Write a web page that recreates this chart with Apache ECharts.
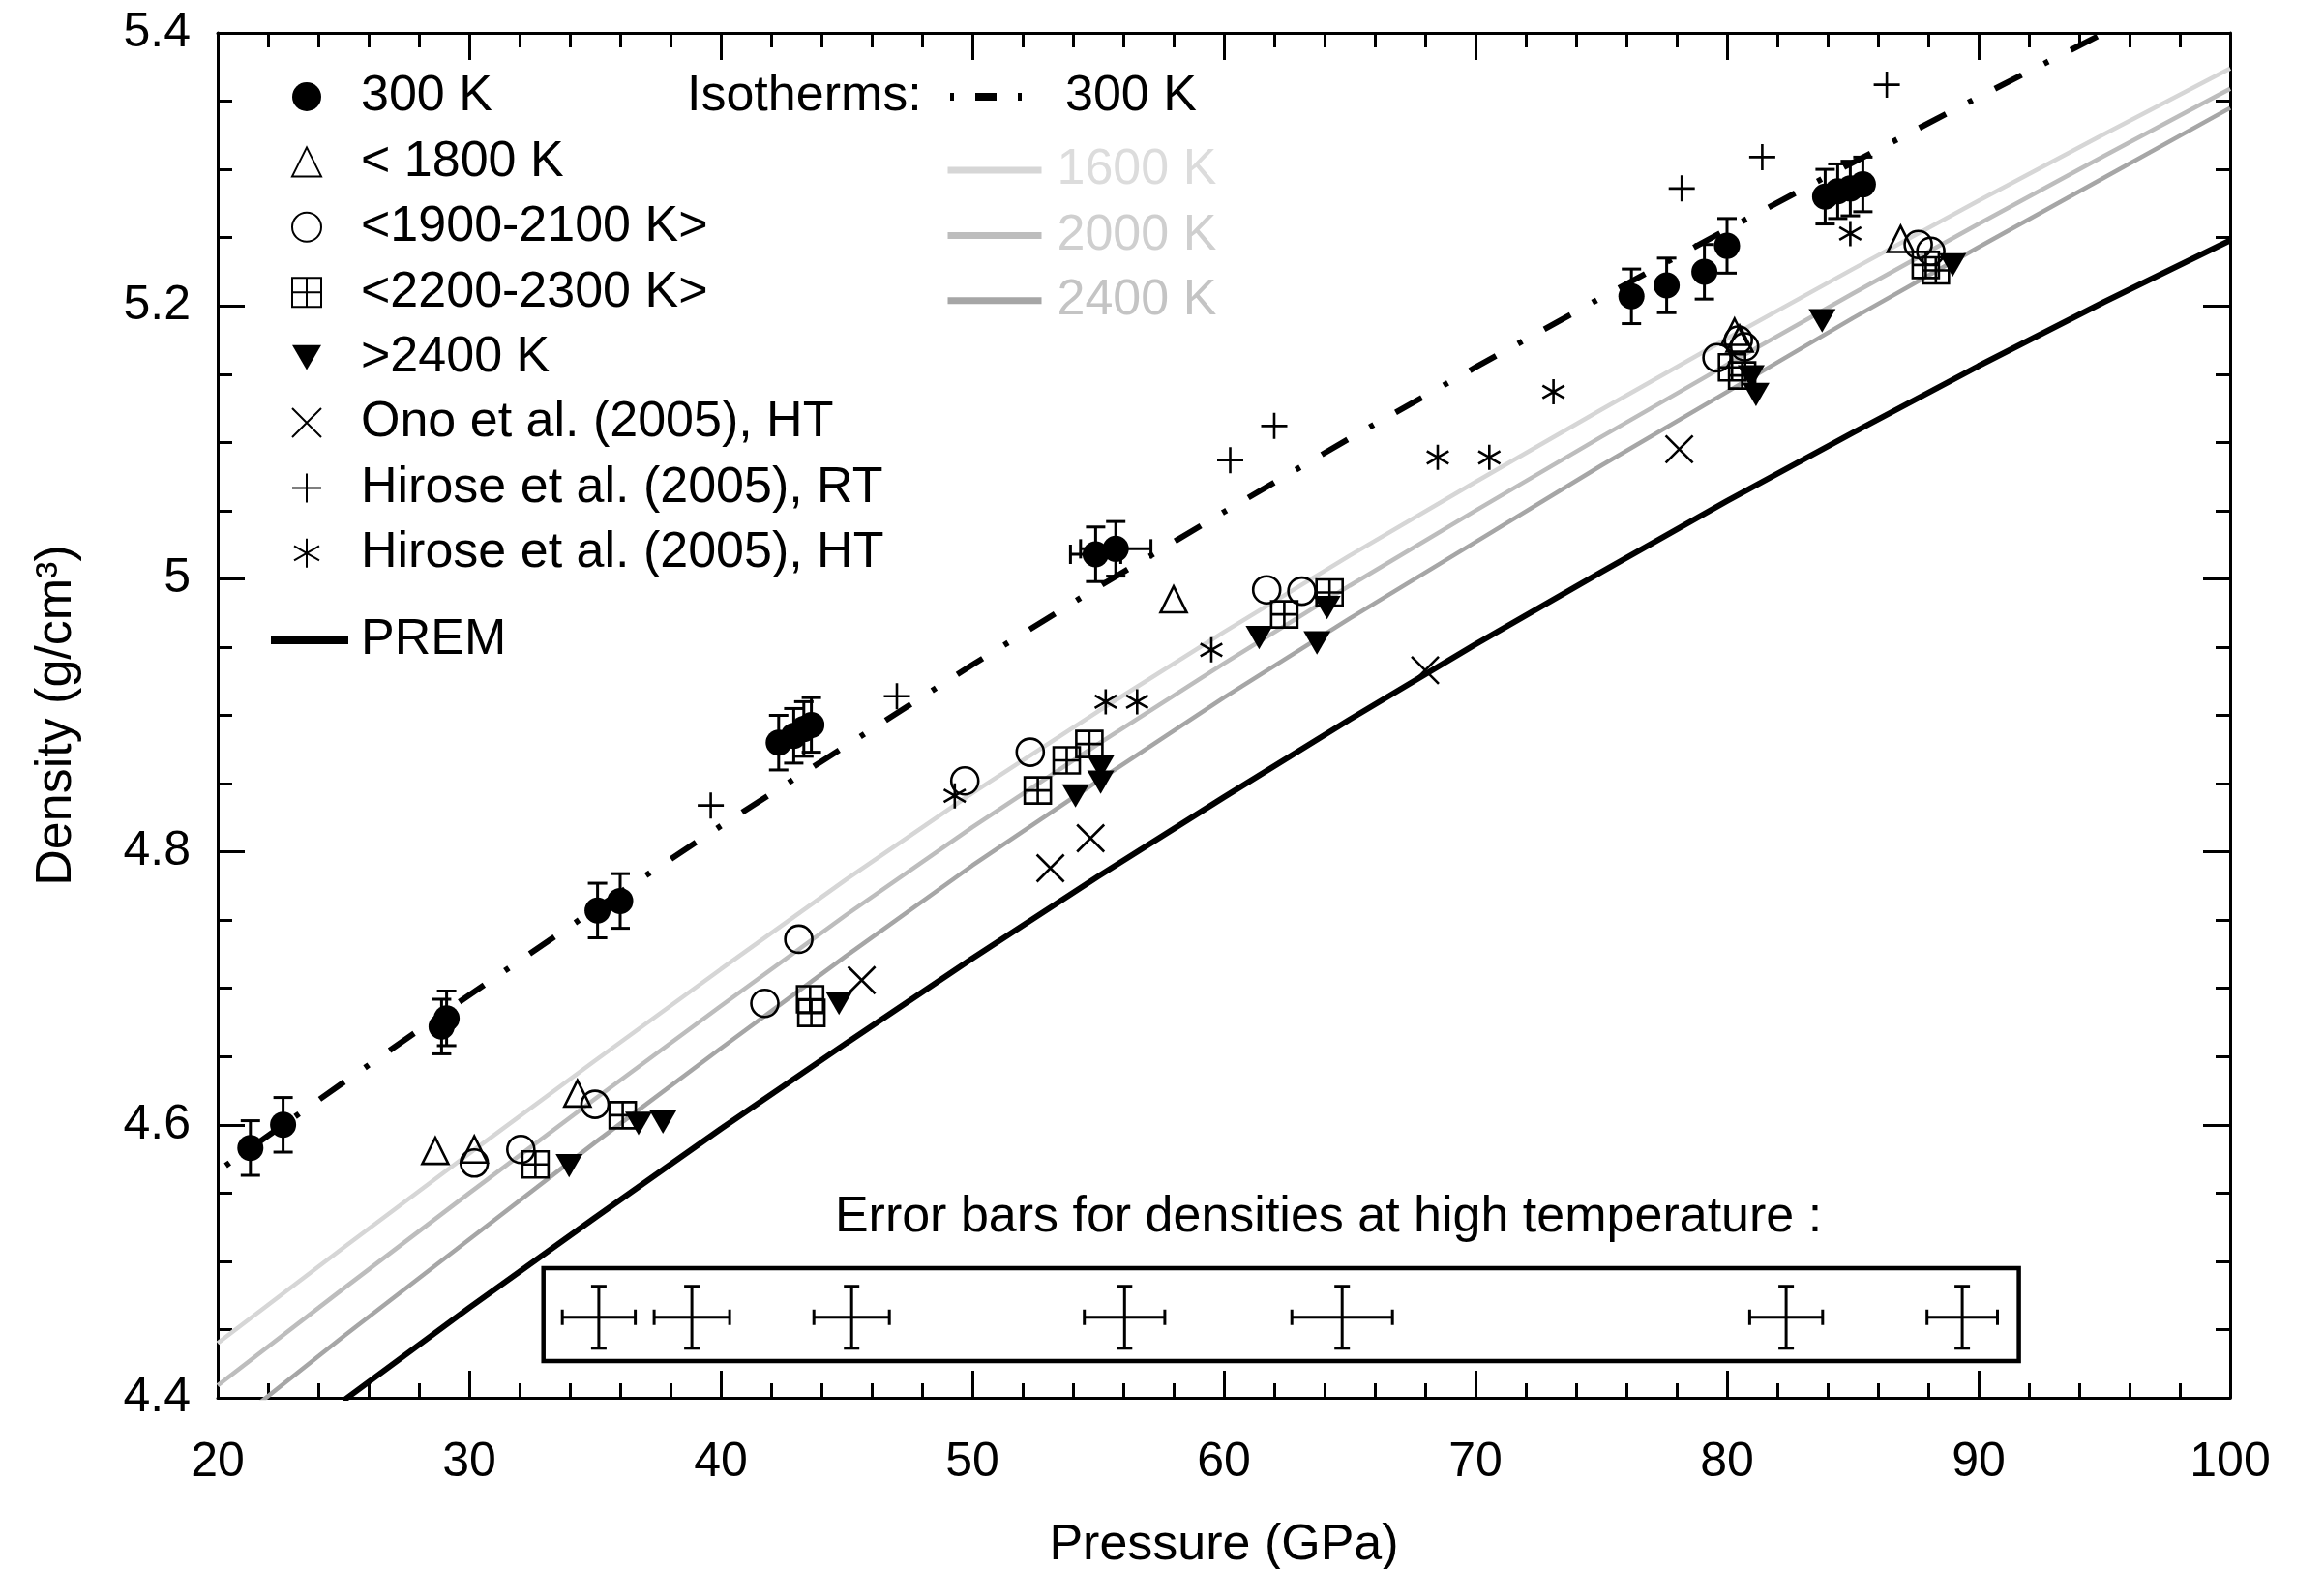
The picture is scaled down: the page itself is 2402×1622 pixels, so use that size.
<!DOCTYPE html>
<html>
<head>
<meta charset="utf-8">
<title>Density vs pressure</title>
<script src="https://cdn.jsdelivr.net/npm/echarts@6/dist/echarts.min.js"></script>
<style>
  html, body { margin: 0; padding: 0; background: #fff; }
  #chart { width: 2402px; height: 1622px; }
</style>
</head>
<body>
<div id="chart"></div>
<script>
// model curves, pressure in GPa, density in g/cm3
const curveP = [20, 25, 30, 35, 40, 45, 50, 55, 60, 65, 70, 75, 80, 85, 90, 95, 100];
const iso1600 = [4.440, 4.510, 4.579, 4.647, 4.714, 4.780, 4.843, 4.903, 4.961, 5.017, 5.071, 5.124, 5.176, 5.227, 5.277, 5.326, 5.374];
const iso2000 = [4.409, 4.480, 4.550, 4.619, 4.687, 4.754, 4.818, 4.879, 4.938, 4.995, 5.050, 5.104, 5.157, 5.209, 5.260, 5.310, 5.359];
const iso2400 = [4.372, 4.445, 4.516, 4.587, 4.656, 4.724, 4.790, 4.852, 4.913, 4.971, 5.027, 5.083, 5.137, 5.191, 5.243, 5.294, 5.345];
const iso300P = [20, 25, 30, 35, 40, 45, 50, 55, 60, 65, 70, 75, 80, 85, 90, 95];
const iso300 = [4.566, 4.631, 4.695, 4.758, 4.819, 4.878, 4.937, 4.994, 5.049, 5.103, 5.155, 5.206, 5.256, 5.305, 5.353, 5.400];
const premP = [25, 30, 35, 40, 45, 50, 55, 60, 65, 70, 75, 80, 85, 90, 95, 100];
const prem = [4.398, 4.466, 4.532, 4.597, 4.660, 4.722, 4.782, 4.840, 4.897, 4.952, 5.005, 5.057, 5.107, 5.156, 5.203, 5.248];

// measurements
const p300 = [21.3, 22.6, 28.9, 29.1, 35.1, 36.0, 42.3, 42.9, 43.3, 43.6, 54.9, 55.7, 76.2, 77.6, 79.1, 80.0, 83.9, 84.4, 84.9, 85.4];
const rho300 = [4.583, 4.600, 4.672, 4.678, 4.757, 4.764, 4.880, 4.885, 4.890, 4.893, 5.018, 5.022, 5.207, 5.215, 5.225, 5.244, 5.280, 5.284, 5.286, 5.289];
const errRho300 = [0.02, 0.02, 0.02, 0.02, 0.02, 0.02, 0.02, 0.02, 0.02, 0.02, 0.02, 0.02, 0.02, 0.02, 0.02, 0.02, 0.02, 0.02, 0.02, 0.02];
const errP300 = [0, 0, 0, 0, 0, 0, 0, 0, 0, 0, 1.0, 1.4, 0, 0, 0, 0, 0, 0, 0, 0];

const pT1800 = [28.65, 30.2, 34.3, 58.0, 80.3, 80.5, 86.9];
const rhoT1800 = [4.581, 4.582, 4.623, 4.985, 5.181, 5.176, 5.249];
const pT2000 = [30.2, 32.05, 35.0, 41.75, 43.1, 49.7, 52.3, 61.7, 63.1, 79.6, 80.45, 80.7, 87.6, 88.1];
const rhoT2000 = [4.572, 4.582, 4.615, 4.689, 4.736, 4.852, 4.873, 4.992, 4.991, 5.162, 5.175, 5.170, 5.245, 5.240];
const pT2250 = [32.63, 36.1, 43.55, 43.6, 52.6, 53.75, 54.65, 62.4, 64.2, 80.2, 80.6, 87.9, 88.3];
const rhoT2250 = [4.571, 4.607, 4.692, 4.682, 4.845, 4.867, 4.879, 4.974, 4.990, 5.155, 5.149, 5.230, 5.226];
const pT2400 = [33.97, 36.73, 37.7, 44.7, 54.1, 55.1, 55.1, 61.4, 63.7, 64.1, 80.96, 81.15, 83.78, 88.97];
const rhoT2400 = [4.570, 4.601, 4.602, 4.689, 4.841, 4.851, 4.862, 4.957, 4.953, 4.979, 5.148, 5.135, 5.189, 5.230];
const pOno = [45.6, 53.1, 54.7, 68.0, 78.1];
const rhoOno = [4.706, 4.788, 4.810, 4.933, 5.095];
const pHiroseRT = [39.6, 47.0, 60.25, 62.0, 78.2, 81.4, 86.35];
const rhoHiroseRT = [4.834, 4.914, 5.087, 5.112, 5.286, 5.309, 5.362];
const pHiroseHT = [49.3, 55.3, 56.55, 59.5, 68.5, 70.55, 73.1, 84.9];
const rhoHiroseHT = [4.841, 4.910, 4.910, 4.948, 5.089, 5.089, 5.137, 5.253];

// error bar key in the lower box
const keyP = [35.15, 38.85, 45.2, 56.05, 64.7, 82.35, 89.35];
const keyErrP = [1.45, 1.5, 1.5, 1.6, 2.0, 1.45, 1.4];
const keyRho = 4.459;
const keyErrRho = 0.0227;
const keyBoxP = [32.95, 91.6];
const keyBoxRho = [4.427, 4.495];

const font = '"Liberation Sans", Arial, Helvetica, sans-serif';

function pairs(xs, ys) {
  return xs.map((x, i) => [x, ys[i]]);
}

function errorBars(capHalf) {
  return function (params, api) {
    const p = api.value(0), r = api.value(1), dr = api.value(2), dp = api.value(3);
    const style = { stroke: '#000', lineWidth: 3, fill: null };
    const hi = api.coord([p, r + dr]);
    const lo = api.coord([p, r - dr]);
    const kids = [
      { type: 'line', shape: { x1: hi[0], y1: hi[1], x2: lo[0], y2: lo[1] }, style: style },
      { type: 'line', shape: { x1: hi[0] - capHalf, y1: hi[1], x2: hi[0] + capHalf, y2: hi[1] }, style: style },
      { type: 'line', shape: { x1: lo[0] - capHalf, y1: lo[1], x2: lo[0] + capHalf, y2: lo[1] }, style: style }
    ];
    if (dp > 0) {
      const l = api.coord([p - dp, r]);
      const rr = api.coord([p + dp, r]);
      kids.push({ type: 'line', shape: { x1: l[0], y1: l[1], x2: rr[0], y2: rr[1] }, style: style });
      kids.push({ type: 'line', shape: { x1: l[0], y1: l[1] - capHalf, x2: l[0], y2: l[1] + capHalf }, style: style });
      kids.push({ type: 'line', shape: { x1: rr[0], y1: rr[1] - capHalf, x2: rr[0], y2: rr[1] + capHalf }, style: style });
    }
    return { type: 'group', children: kids };
  };
}

const symSquareGrid = 'path://M0,0 L20,0 L20,20 L0,20 Z M10,0 L10,20 M0,10 L20,10';
const symDownTri = 'path://M0,0 L20,0 L10,17.3 Z';
const symCross = 'path://M0,0 L20,20 M20,0 L0,20';
const symPlus = 'path://M10,0 L10,20 M0,10 L20,10';
const symStar = 'path://M10,0 L10,20 M1.34,5 L18.66,15 M18.66,5 L1.34,15';

const clear = 'rgba(255,255,255,0)';

function marker(name, xs, ys, symbol, size, filled) {
  return {
    name: name,
    type: 'scatter',
    data: pairs(xs, ys),
    symbol: symbol,
    symbolSize: size,
    symbolKeepAspect: true,
    itemStyle: filled
      ? { color: '#000', borderWidth: 0, opacity: 1 }
      : { color: clear, borderColor: '#000', borderWidth: 2.6, opacity: 1 },
    emphasis: { disabled: true },
    z: 5
  };
}

function isoLine(name, xs, ys, color, width, dash) {
  return {
    name: name,
    type: 'line',
    data: pairs(xs, ys),
    symbol: 'none',
    smooth: false,
    color: color,
    lineStyle: dash
      ? { color: color, width: width, type: dash, dashOffset: 47, cap: 'butt' }
      : { color: color, width: width },
    emphasis: { disabled: true },
    z: 2
  };
}

const axisCommon = {
  axisLine: { show: true, lineStyle: { color: '#000', width: 3 } },
  axisTick: { show: true, inside: true, length: 28, lineStyle: { color: '#000', width: 3 } },
  splitLine: { show: false }
};

const chart = echarts.init(document.getElementById('chart'));

const option = {
  animation: false,
  backgroundColor: '#fff',
  grid: { left: 225, right: 97, top: 34, bottom: 177, containLabel: false, outerBoundsMode: 'none' },
  xAxis: [
    Object.assign({}, axisCommon, {
      type: 'value', min: 20, max: 100, interval: 10, position: 'bottom',
      minorTick: { show: true, splitNumber: 5, length: 15, lineStyle: { color: '#000', width: 3 } },
      axisLabel: { fontSize: 50, color: '#000', fontFamily: font, margin: 42 },
      name: 'Pressure (GPa)', nameLocation: 'middle', nameGap: 127,
      nameTextStyle: { fontSize: 52, color: '#000', fontFamily: font }
    }),
    Object.assign({}, axisCommon, {
      type: 'value', min: 20, max: 100, interval: 10, position: 'top',
      minorTick: { show: true, splitNumber: 5, length: 15, lineStyle: { color: '#000', width: 3 } },
      axisLabel: { show: false }
    })
  ],
  yAxis: [
    Object.assign({}, axisCommon, {
      type: 'value', min: 4.4, max: 5.4, interval: 0.2, position: 'left',
      minorTick: { show: true, splitNumber: 4, length: 15, lineStyle: { color: '#000', width: 3 } },
      axisLabel: { fontSize: 50, color: '#000', fontFamily: font, margin: 28 },
      name: 'Density (g/cm³)', nameLocation: 'middle', nameGap: 140,
      nameTextStyle: { fontSize: 52, color: '#000', fontFamily: font }
    }),
    Object.assign({}, axisCommon, {
      type: 'value', min: 4.4, max: 5.4, interval: 0.2, position: 'right',
      minorTick: { show: true, splitNumber: 4, length: 15, lineStyle: { color: '#000', width: 3 } },
      axisLabel: { show: false }
    })
  ],
  legend: [
    {
      data: ['300 K', '< 1800 K', '<1900-2100 K>', '<2200-2300 K>', '>2400 K',
        'Ono et al. (2005), HT', 'Hirose et al. (2005), RT', 'Hirose et al. (2005), HT'],
      orient: 'vertical', left: 301, top: 72, padding: 0, itemGap: 11.4,
      itemWidth: 30, itemHeight: 30, selectedMode: false,
      textStyle: { fontSize: 52, fontFamily: font, color: '#000', lineHeight: 56, padding: [0, 0, 0, 36] }
    },
    {
      data: ['PREM'],
      orient: 'vertical', left: 276, top: 634, padding: 0,
      itemWidth: 80, itemHeight: 14, selectedMode: false,
      itemStyle: { opacity: 0 },
      lineStyle: { width: 8 },
      textStyle: { fontSize: 52, fontFamily: font, color: '#000', lineHeight: 56, padding: [0, 0, 0, 8] }
    },
    {
      data: ['300 K isotherm'],
      formatter: function () { return '300 K'; },
      orient: 'vertical', left: 978, top: 72, padding: 0,
      itemWidth: 74, itemHeight: 14, selectedMode: false,
      itemStyle: { opacity: 0 },
      lineStyle: { width: 8, type: [22, 22, 4, 22], dashOffset: 44, cap: 'butt' },
      textStyle: { fontSize: 52, fontFamily: font, color: '#000', lineHeight: 56, padding: [0, 0, 0, 40] }
    },
    {
      data: [
        { name: '1600 K', textStyle: { color: '#dcdcdc' } },
        { name: '2000 K', textStyle: { color: '#cfcfcf' } },
        { name: '2400 K', textStyle: { color: '#c4c4c4' } }
      ],
      orient: 'vertical', left: 976, top: 148, padding: 0, itemGap: 11.4,
      itemWidth: 97, itemHeight: 14, selectedMode: false,
      itemStyle: { opacity: 0 },
      lineStyle: { width: 7 },
      textStyle: { fontSize: 52, fontFamily: font, lineHeight: 56, padding: [0, 0, 0, 11] }
    }
  ],
  graphic: [
    {
      type: 'text', x: 710, y: 100,
      style: {
        text: 'Isotherms:', font: '52px ' + font, fill: '#000',
        align: 'left', verticalAlign: 'middle', textAlign: 'left', textVerticalAlign: 'middle'
      }
    },
    {
      type: 'text', x: 1373, y: 1259,
      style: {
        text: 'Error bars for densities at high temperature :', font: '52px ' + font, fill: '#000',
        align: 'center', verticalAlign: 'middle', textAlign: 'center', textVerticalAlign: 'middle'
      }
    }
  ],
  series: [
    isoLine('1600 K', curveP, iso1600, '#d6d6d6', 4.5),
    isoLine('2000 K', curveP, iso2000, '#bdbdbd', 4.5),
    isoLine('2400 K', curveP, iso2400, '#a6a6a6', 4.5),
    isoLine('PREM', premP, prem, '#000', 6),
    isoLine('300 K isotherm', iso300P, iso300, '#000', 6, [31, 26, 5, 26]),
    {
      name: '300 K error bars',
      type: 'custom',
      renderItem: errorBars(10),
      data: p300.map((p, i) => [p, rho300[i], errRho300[i], errP300[i]]),
      encode: { x: 0, y: 1 },
      z: 4
    },
    {
      name: 'error bar key',
      type: 'custom',
      renderItem: errorBars(8),
      data: keyP.map((p, i) => [p, keyRho, keyErrRho, keyErrP[i]]),
      encode: { x: 0, y: 1 },
      z: 4,
      markArea: {
        silent: true,
        label: { show: false },
        itemStyle: { color: clear, borderColor: '#000', borderWidth: 4.5 },
        data: [[{ coord: [keyBoxP[0], keyBoxRho[1]] }, { coord: [keyBoxP[1], keyBoxRho[0]] }]]
      }
    },
    marker('300 K', p300, rho300, 'circle', 27, true),
    marker('< 1800 K', pT1800, rhoT1800, 'triangle', 27, false),
    marker('<1900-2100 K>', pT2000, rhoT2000, 'circle', 28, false),
    marker('<2200-2300 K>', pT2250, rhoT2250, symSquareGrid, 27, false),
    marker('>2400 K', pT2400, rhoT2400, symDownTri, 28, true),
    marker('Ono et al. (2005), HT', pOno, rhoOno, symCross, 28, false),
    marker('Hirose et al. (2005), RT', pHiroseRT, rhoHiroseRT, symPlus, 27, false),
    marker('Hirose et al. (2005), HT', pHiroseHT, rhoHiroseHT, symStar, 26, false)
  ]
};

chart.setOption(option);
</script>
</body>
</html>
